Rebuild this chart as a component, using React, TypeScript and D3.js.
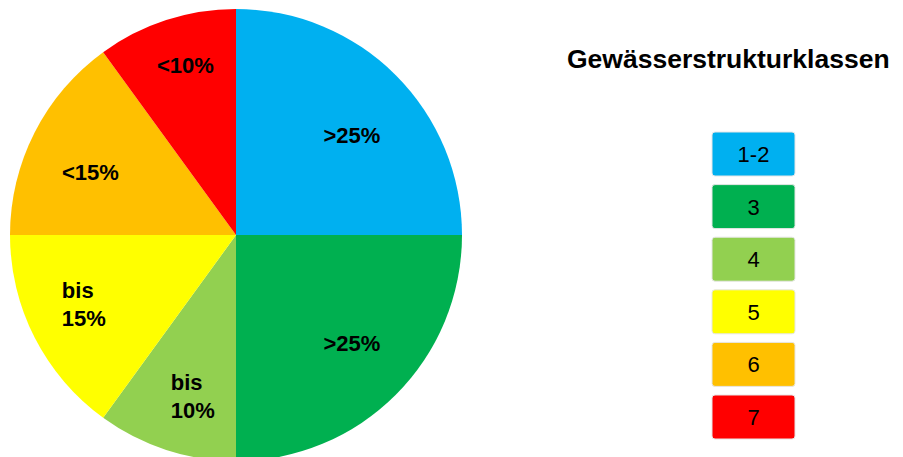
import React from "react";
import * as d3 from "d3";

const classes = ["1-2", "3", "4", "5", "6", "7"];
const shares = [25, 25, 10, 15, 15, 10];
const sliceLabels = [[">25%"], [">25%"], ["bis", "10%"], ["bis", "15%"], ["<15%"], ["<10%"]];
const colors = ["#00B0F0", "#00B050", "#92D050", "#FFFF00", "#FFC000", "#FF0000"];
const legendTitle = "Gewässerstrukturklassen";

// layout-only nudges of the slice labels away from the arc centroid (px)
const labelNudge: [number, number][] = [[0, 16.5], [0, -7.5], [7.5, 5.5], [-6, -5.5], [0.5, 11.5], [0, -14]];

const W = 903;
const H = 457;
const FONT = "Liberation Sans, Arial, Helvetica, sans-serif";

let ctx: CanvasRenderingContext2D | null = null;
function measure(text: string, font: string): number {
  if (!ctx) {
    const c = document.createElement("canvas");
    ctx = c.getContext("2d");
  }
  if (!ctx) return text.length * 12;
  ctx.font = font;
  return ctx.measureText(text).width;
}

export default function App() {
  const cx = 236;
  const cy = 235;
  const R = 226;
  const pie = d3.pie<number>().sort(null).value((d) => d).startAngle(0).endAngle(2 * Math.PI);
  const arcs = pie(shares);
  const arc = d3.arc<d3.PieArcDatum<number>>().innerRadius(0).outerRadius(R);
  const labelR = 164;
  const labelFont = 22;
  const lineH = 28;

  const legendX = 712;
  const legendW = 83;
  const legendH = 44;
  const legendY = d3.scaleBand<string>().domain(classes).range([132, 132 + 52.6 * classes.length]).paddingInner(0);

  return (
    <svg width={W} height={H} style={{ position: "absolute", left: 0, top: 0, background: "#fff" }} fontFamily={FONT}>
      <g transform={`translate(${cx},${cy})`}>
        {arcs.map((a, i) => (
          <path key={i} d={arc(a) || ""} fill={colors[i]} />
        ))}
        {arcs.map((a, i) => {
          const mid = (a.startAngle + a.endAngle) / 2;
          const x = Math.sin(mid) * labelR + labelNudge[i][0];
          const y = -Math.cos(mid) * labelR + labelNudge[i][1];
          const lines = sliceLabels[i];
          const f = `bold ${labelFont}px ${FONT}`;
          const maxW = Math.max(...lines.map((l) => measure(l, f)));
          const capH = labelFont * 0.716;
          const blockH = (lines.length - 1) * lineH + capH;
          const y0 = y - blockH / 2 + capH;
          return (
            <text key={i} fontSize={labelFont} fontWeight="bold" fill="#000">
              {lines.map((l, j) => (
                <tspan key={j} x={x - maxW / 2} y={y0 + j * lineH}>
                  {l}
                </tspan>
              ))}
            </text>
          );
        })}
      </g>
      <text x={567} y={68} fontSize={26.5} fontWeight="bold" fill="#000">
        {legendTitle}
      </text>
      {classes.map((c, i) => {
        const y = legendY(c) as number;
        return (
          <g key={c}>
            <rect x={legendX} y={y} width={legendW} height={legendH} rx={3} fill={colors[i]} stroke="#e6e6e6" strokeWidth={1} />
            <text x={legendX + legendW / 2} y={y + legendH / 2 + 8} textAnchor="middle" fontSize={22} fill="#000">
              {c}
            </text>
          </g>
        );
      })}
    </svg>
  );
}
